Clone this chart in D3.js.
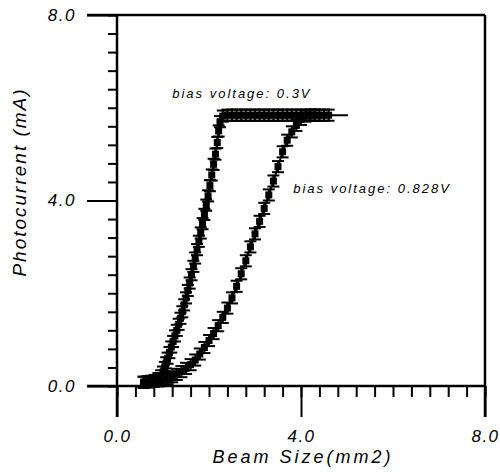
<!DOCTYPE html>
<html>
<head>
<meta charset="utf-8">
<script src="https://cdn.jsdelivr.net/npm/d3@7"></script>
<style>
  body { margin: 0; background: #fff; }
  text { font-family: "Liberation Sans", Arial, sans-serif; font-style: italic; fill: #000; }
</style>
</head>
<body>
<script>
// bias 0.3 V: beam size (mm2) vs photocurrent (mA)
const lowX = [0.58, 0.66, 0.74, 0.82, 0.9, 0.96, 1.0, 1.04, 1.07, 1.1, 1.14, 1.18, 1.22, 1.26, 1.3, 1.34, 1.38, 1.42, 1.46, 1.5,
  1.54, 1.58, 1.62, 1.66, 1.7, 1.74, 1.78, 1.82, 1.86, 1.9, 1.94, 1.98, 2.02, 2.06, 2.1, 2.14, 2.18, 2.21, 2.24, 2.3,
  2.4, 2.5, 2.6, 2.7, 2.8, 2.9, 3.0, 3.1, 3.2, 3.3, 3.4, 3.5, 3.6, 3.7, 3.8, 3.9, 4.0, 4.1, 4.2, 4.3, 4.4, 4.5, 4.6, 5.02];
const lowY = [0.08, 0.09, 0.1, 0.12, 0.16, 0.22, 0.3, 0.4, 0.5, 0.6, 0.72, 0.84, 0.96, 1.08, 1.2, 1.33, 1.46, 1.6, 1.75, 1.9,
  2.06, 2.22, 2.4, 2.58, 2.76, 2.94, 3.12, 3.3, 3.5, 3.7, 3.9, 4.1, 4.32, 4.55, 4.78, 5.0, 5.25, 5.5, 5.7, 5.82,
  5.84, 5.84, 5.84, 5.84, 5.84, 5.84, 5.84, 5.84, 5.84, 5.84, 5.84, 5.84, 5.84, 5.84, 5.84, 5.84, 5.84, 5.84, 5.84, 5.84, 5.84, 5.84, 5.84, 5.84];

// bias 0.828 V
const highX = [0.58, 0.7, 0.8, 0.9, 1.0, 1.1, 1.2, 1.3, 1.4, 1.5, 1.6, 1.7, 1.8, 1.9, 2.0, 2.1, 2.2, 2.3, 2.4, 2.5,
  2.6, 2.7, 2.8, 2.9, 3.0, 3.1, 3.2, 3.3, 3.4, 3.5, 3.6, 3.7, 3.8, 3.9, 4.0, 4.1, 4.2, 4.3];
const highY = [0.08, 0.09, 0.1, 0.11, 0.13, 0.16, 0.2, 0.25, 0.31, 0.38, 0.46, 0.56, 0.69, 0.83, 0.98, 1.13, 1.3, 1.48, 1.68, 1.9,
  2.15, 2.42, 2.7, 3.0, 3.28, 3.55, 3.83, 4.12, 4.42, 4.73, 5.05, 5.3, 5.48, 5.62, 5.75, 5.82, 5.84, 5.84];

const errY = 0.12; // mA, error bar half-height

const majorTicks = [0, 4, 8];
const minorTicks = d3.range(0, 8.001, 0.4);

const labels = [
  { x: 1.2, y: 6.21, text: "bias voltage: 0.3V" },
  { x: 3.83, y: 4.16, text: "bias voltage: 0.828V" }
];

const width = 500, height = 472;
const x = d3.scaleLinear([0, 8], [117, 485]);
const y = d3.scaleLinear([0, 8], [386, 15]);

const svg = d3.select("body").append("svg")
  .attr("width", width)
  .attr("height", height);

const fmt = d3.format(".1f");

// frame lines (axes extend past origin like the original)
const frame = svg.append("g").attr("stroke", "#000").attr("stroke-width", 2.5);
frame.append("line").attr("x1", x(0) - 30).attr("x2", x(8)).attr("y1", y(0)).attr("y2", y(0));
frame.append("line").attr("x1", x(0)).attr("x2", x(0)).attr("y1", y(8)).attr("y2", y(0) + 31);
frame.append("line").attr("x1", x(0) - 30).attr("x2", x(8)).attr("y1", y(8)).attr("y2", y(8));
frame.append("line").attr("x1", x(8)).attr("x2", x(8)).attr("y1", y(8)).attr("y2", y(0) + 31);

// x axis
const xMinor = svg.append("g")
  .attr("transform", `translate(0,${y(0)})`)
  .call(d3.axisBottom(x).tickValues(minorTicks).tickSize(11).tickFormat(""));
const xMajor = svg.append("g")
  .attr("transform", `translate(0,${y(0)})`)
  .call(d3.axisBottom(x).tickValues(majorTicks).tickSize(31).tickPadding(13).tickFormat(fmt));

// y axis
const yMinor = svg.append("g")
  .attr("transform", `translate(${x(0)},0)`)
  .call(d3.axisLeft(y).tickValues(minorTicks).tickSize(9).tickFormat(""));
const yMajor = svg.append("g")
  .attr("transform", `translate(${x(0)},0)`)
  .call(d3.axisLeft(y).tickValues(majorTicks).tickSize(30).tickPadding(11).tickFormat(fmt));

for (const g of [xMinor, xMajor, yMinor, yMajor]) {
  g.select(".domain").remove();
  g.selectAll(".tick line").attr("stroke", "#000").attr("stroke-width", 2);
  g.selectAll(".tick text")
    .attr("font-size", 17)
    .attr("font-family", null)
    .style("letter-spacing", "1.5px");
}

// axis titles
svg.append("text")
  .attr("x", 303)
  .attr("y", 463)
  .attr("text-anchor", "middle")
  .attr("font-size", 18)
  .style("letter-spacing", "3px")
  .text("Beam Size(mm2)");

svg.append("text")
  .attr("transform", `translate(26,${182}) rotate(-90)`)
  .attr("text-anchor", "middle")
  .attr("font-size", 19)
  .style("letter-spacing", "2px")
  .text("Photocurrent (mA)");

// series
const series = [
  { xs: lowX, ys: lowY, markerCount: lowX.length - 1 },
  { xs: highX, ys: highY, markerCount: highX.length }
];

const line = d3.line().x(d => x(d[0])).y(d => y(d[1]));

for (const s of series) {
  const pts = d3.zip(s.xs, s.ys);
  const g = svg.append("g");

  g.append("path")
    .datum(pts)
    .attr("fill", "none")
    .attr("stroke", "#000")
    .attr("stroke-width", 2)
    .attr("d", line);

  const marks = pts.slice(0, s.markerCount);

  // error bars
  const eb = g.append("g").attr("stroke", "#000").attr("stroke-width", 2);
  eb.selectAll("line.v")
    .data(marks)
    .join("line")
    .attr("class", "v")
    .attr("x1", d => x(d[0])).attr("x2", d => x(d[0]))
    .attr("y1", d => y(d[1] - errY)).attr("y2", d => y(d[1] + errY));
  for (const sign of [-1, 1]) {
    eb.selectAll(`line.c${sign}`)
      .data(marks)
      .join("line")
      .attr("class", `c${sign}`)
      .attr("x1", d => x(d[0]) - 6).attr("x2", d => x(d[0]) + 6)
      .attr("y1", d => y(d[1] + sign * errY)).attr("y2", d => y(d[1] + sign * errY));
  }

  g.selectAll("rect")
    .data(marks)
    .join("rect")
    .attr("x", d => x(d[0]) - 3.5)
    .attr("y", d => y(d[1]) - 3.5)
    .attr("width", 7)
    .attr("height", 7)
    .attr("fill", "#000");
}

// annotations
svg.selectAll("text.ann")
  .data(labels)
  .join("text")
  .attr("class", "ann")
  .attr("x", d => x(d.x))
  .attr("y", d => y(d.y))
  .attr("font-size", 13)
  .style("letter-spacing", "2px")
  .text(d => d.text);
</script>
</body>
</html>
